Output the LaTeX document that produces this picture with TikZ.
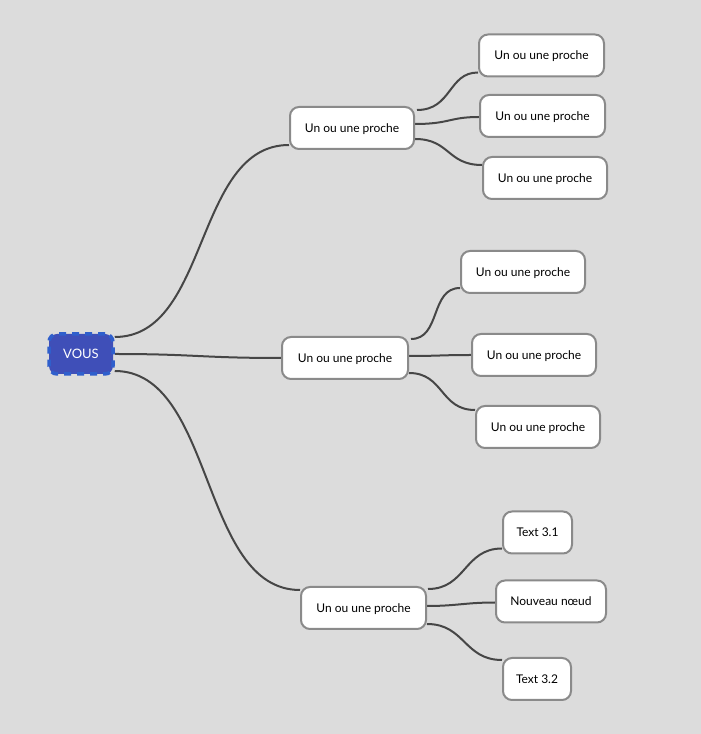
\documentclass[tikz,border=0pt]{standalone}
\usepackage{fontspec}
\setmainfont{Lato}
\pgfdeclarelayer{bglayer}
\pgfdeclarelayer{edgelayer}
\pgfsetlayers{bglayer,edgelayer,main}
\definecolor{bgc}{HTML}{DCDCDC}
\definecolor{boxline}{HTML}{8A8A8A}
\definecolor{edgec}{HTML}{464646}
\definecolor{rootfill}{HTML}{3F4FB8}
\definecolor{rootline}{HTML}{2F5FCC}
\tikzset{
  box/.style={draw=boxline, line width=2pt, fill=white, rounded corners=9pt,
    minimum height=42pt, inner sep=0pt, font=\fontsize{12}{14}\selectfont, text=black,
    text height=10.5pt, text depth=1.6pt},
  rootbox/.style={draw=rootline, line width=3.5pt, dash pattern=on 7pt off 6pt, fill=rootfill,
    rounded corners=8pt, minimum width=64pt, minimum height=40pt, inner sep=0pt,
    font=\fontsize{13}{15}\selectfont, text=white},
  edge/.style={draw=edgec, line width=2pt}
}
\begin{document}
\begin{tikzpicture}[x=1pt,y=1pt]
\begin{pgfonlayer}{bglayer}
\fill[bgc] (0,0) rectangle (701,734);
\end{pgfonlayer}
\useasboundingbox (0,0) rectangle (701,734);

\node[rootbox] (V) at (81,380) {VOUS};
\node[box, minimum width=124pt] (A) at (352,606) {Un ou une proche};
\node[box, minimum width=126pt] (B) at (345,376) {Un ou une proche};
\node[box, minimum width=125pt] (C) at (363.5,126) {Un ou une proche};

\node[box, minimum width=125pt] (A1) at (541.5,678.5) {Un ou une proche};
\node[box, minimum width=125pt] (A2) at (542.5,618) {Un ou une proche};
\node[box, minimum width=124pt] (A3) at (545,556) {Un ou une proche};

\node[box, minimum width=124pt] (B1) at (523,462) {Un ou une proche};
\node[box, minimum width=124pt] (B2) at (534,379) {Un ou une proche};
\node[box, minimum width=124pt] (B3) at (538,307) {Un ou une proche};

\node[box, minimum width=69pt] (C1) at (537.5,201.5) {Text 3.1};
\node[box, minimum width=110pt] (C2) at (551,132.5) {Nouveau nœud};
\node[box, minimum width=68pt] (C3) at (537,55) {Text 3.2};

\begin{pgfonlayer}{edgelayer}
\draw[edge] ([yshift=17pt]V.east) .. controls +(95,0) and +(-95,0) .. ([yshift=-17pt]A.west);
\draw[edge] (V.east) .. controls +(80,0) and +(-80,0) .. (B.west);
\draw[edge] ([yshift=-17pt]V.east) .. controls +(100,0) and +(-100,0) .. ([yshift=18pt]C.west);

\draw[edge] ([xshift=2pt,yshift=18pt]A.east) .. controls +(35,0) and +(-30,0) .. ([yshift=-17pt]A1.west);
\draw[edge] ([yshift=4pt]A.east) .. controls +(35,0) and +(-30,0) .. ([yshift=-1pt]A2.west);
\draw[edge] ([yshift=-11pt]A.east) .. controls +(35,0) and +(-35,0) .. ([yshift=13pt]A3.west);

\draw[edge] ([xshift=2pt,yshift=19pt]B.east) .. controls +(30,0) and +(-30,0) .. ([yshift=-16pt]B1.west);
\draw[edge] ([yshift=2pt]B.east) .. controls +(30,0) and +(-30,0) .. (B2.west);
\draw[edge] ([yshift=-15pt]B.east) .. controls +(35,0) and +(-35,0) .. ([yshift=17pt]B3.west);

\draw[edge] ([xshift=1pt,yshift=19pt]C.east) .. controls +(38,0) and +(-38,0) .. ([yshift=-16pt]C1.west);
\draw[edge] ([yshift=2pt]C.east) .. controls +(30,0) and +(-30,0) .. ([yshift=-1pt]C2.west);
\draw[edge] ([yshift=-16pt]C.east) .. controls +(38,0) and +(-38,0) .. ([yshift=19pt]C3.west);
\end{pgfonlayer}
\end{tikzpicture}
\end{document}
